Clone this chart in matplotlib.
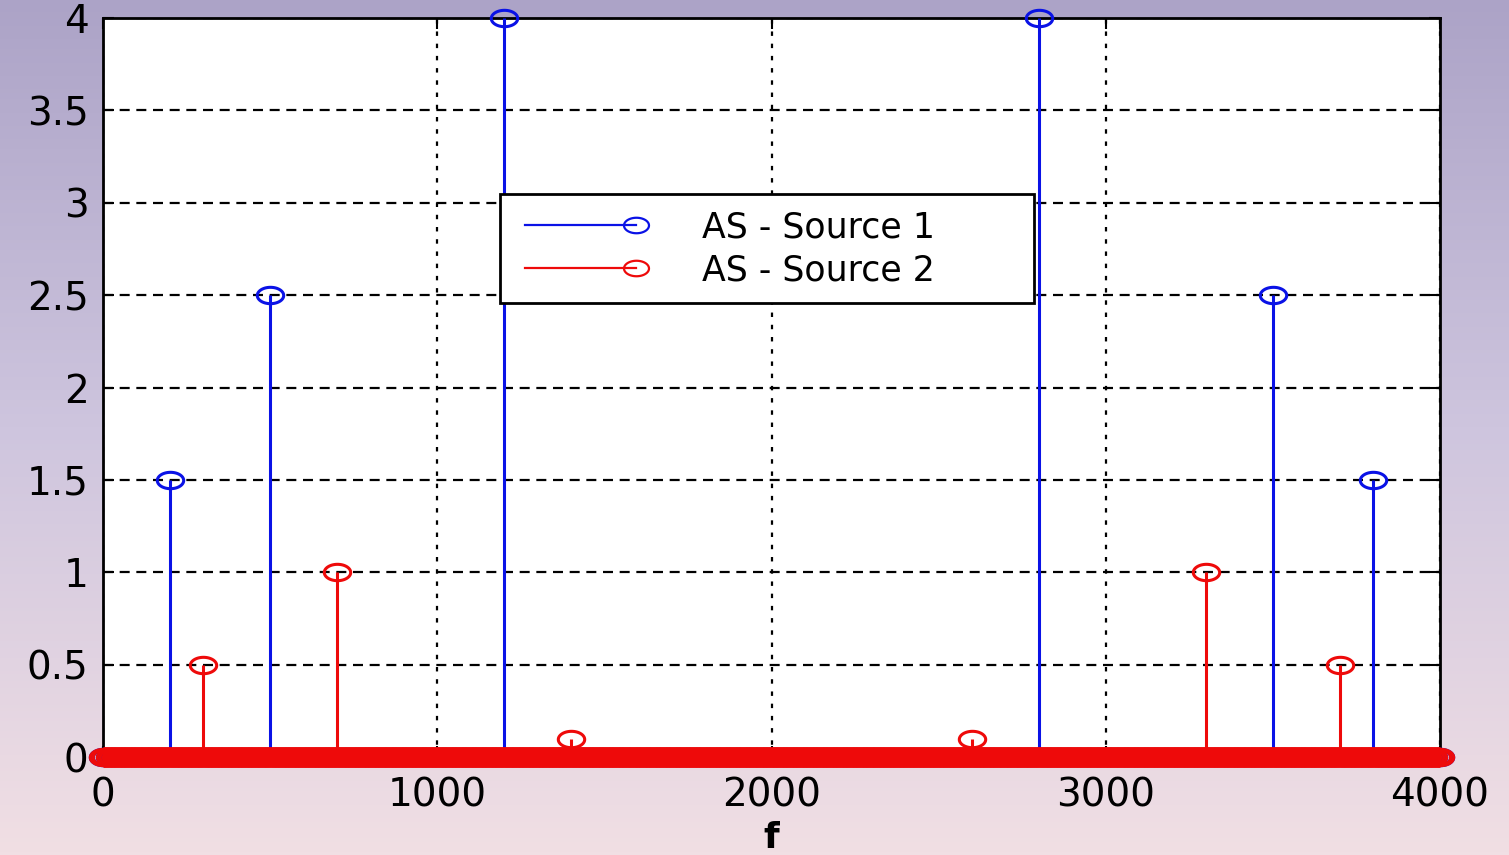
import numpy as np
import matplotlib
matplotlib.use("Agg")
import matplotlib.pyplot as plt
from matplotlib.lines import Line2D
from matplotlib.legend_handler import HandlerBase
from matplotlib.path import Path

# frequency grid of the spectrum (Hz)
fs = 8000
n_bins = 800

# peaks of the two amplitude spectra
src1_freq = [200, 500, 1200, 2800, 3500, 3800]
src1_amp = [1.5, 2.5, 4.0, 4.0, 2.5, 1.5]
src2_freq = [300, 700, 1400, 2600, 3300, 3700]
src2_amp = [0.5, 1.0, 0.1, 0.1, 1.0, 0.5]

labels = ["AS - Source 1", "AS - Source 2"]
xticks = [0, 1000, 2000, 3000, 4000]
yticks = [0, 0.5, 1, 1.5, 2, 2.5, 3, 3.5, 4]
yticklabels = ["0", "0.5", "1", "1.5", "2", "2.5", "3", "3.5", "4"]

df = fs / n_bins
f = np.arange(0, fs / 2 + df, df)
as1 = np.zeros(len(f))
as2 = np.zeros(len(f))
for fr, a in zip(src1_freq, src1_amp):
    as1[int(round(fr / df))] = a
for fr, a in zip(src2_freq, src2_amp):
    as2[int(round(fr / df))] = a

BLUE = "#0a12e6"
RED = "#ee0a0a"

# the picture is stretched sideways, so circles come out as flat ellipses
th = np.linspace(0, 2 * np.pi, 60)
ELLIPSE = Path(np.column_stack([np.cos(th), 0.62 * np.sin(th)]), closed=True)


# legend entry like matlab stem: line with the circle at the right end
class StemHandler(HandlerBase):
    def create_artists(self, legend, orig_handle, xdescent, ydescent,
                       width, height, fontsize, trans):
        c = orig_handle.get_color()
        y = height / 2 - ydescent
        x0 = -xdescent + 6
        x1 = width - xdescent
        ln = Line2D([x0, x1], [y, y], color=c, lw=1.6)
        mk = Line2D([x1], [y], marker=ELLIPSE, mfc="none", mec=c,
                    ms=18, mew=1.6, ls="none")
        ln.set_transform(trans)
        mk.set_transform(trans)
        return [ln, mk]


fig = plt.figure(figsize=(15.09, 8.55), dpi=100)

# background gradient
bg = fig.add_axes([0, 0, 1, 1], zorder=-10)
top = np.array([172, 163, 199]) / 255
mid = np.array([206, 197, 222]) / 255
bot = np.array([241, 223, 228]) / 255
t = np.linspace(0, 1, 256)[:, None]
grad = np.where(t < 0.5, top + (mid - top) * (t / 0.5), mid + (bot - mid) * ((t - 0.5) / 0.5))
bg.imshow(grad[:, None, :], aspect="auto", extent=[0, 1, 0, 1])
bg.axis("off")

ax = fig.add_axes([0.0683, 0.1146, 0.8860, 0.8643])
ax.set_facecolor("white")

for amp, col, base in [(as1, BLUE, " "), (as2, RED, "-")]:
    ml, sl, bl = ax.stem(f, amp, linefmt="-", markerfmt="o", basefmt=base)
    sl.set_color(col)
    sl.set_linewidth(2.2)
    ml.set_marker(ELLIPSE)
    ml.set_color(col)
    ml.set_markerfacecolor("none")
    ml.set_markeredgecolor(col)
    ml.set_markersize(19)
    ml.set_markeredgewidth(2.2)
    ml.set_clip_on(False)
    sl.set_clip_on(False)
    # the zero samples pile up into a thick band along the baseline
    bl.set_color(col)
    bl.set_linewidth(15)
    bl.set_solid_capstyle("butt")
    bl.set_clip_on(False)

ax.set_xlim(0, 4000)
ax.set_ylim(0, 4)
ax.set_xticks(xticks)
ax.set_xticklabels([str(x) for x in xticks])
ax.set_yticks(yticks)
ax.set_yticklabels(yticklabels)

ax.xaxis.grid(True, color="black", lw=1.6, linestyle=(0, (2.0, 3.5)))
ax.yaxis.grid(True, color="black", lw=1.6, linestyle=(0, (4.5, 3.0)))
ax.set_axisbelow(True)

for s in ax.spines.values():
    s.set_linewidth(2.0)
    s.set_zorder(1)
ax.tick_params(direction="in", length=8, width=1.5, top=True, right=True,
               labelsize=28)
ax.tick_params(axis="y", pad=10.5)
ax.tick_params(axis="x", pad=14)

ax.set_xlabel("f", fontsize=26, fontweight="bold", labelpad=5)

proxies = [Line2D([], [], color=BLUE), Line2D([], [], color=RED)]
leg = ax.legend(proxies, labels, handler_map={Line2D: StemHandler()},
                loc="upper left", bbox_to_anchor=(0.2969, 0.6, 0.3994, 0.1618),
                mode="expand", fontsize=25, handlelength=3.45,
                handletextpad=1.9, labelspacing=0.25, borderpad=0.47,
                borderaxespad=0, fancybox=False, framealpha=1,
                edgecolor="black")
leg.get_frame().set_linewidth(2.0)
leg.set_zorder(5)

fig.savefig("out.png", dpi=100)
